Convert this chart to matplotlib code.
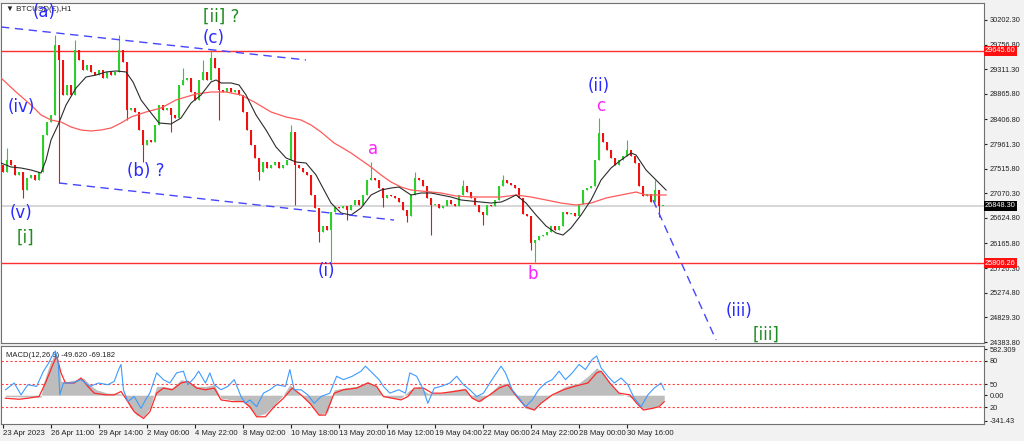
import numpy as np
import matplotlib
matplotlib.use("Agg")
from matplotlib import pyplot as plt
import matplotlib.transforms as mtrans

# hourly BTCUSD, one candle per bar (closes)
closes = [27456, 27672, 27582, 27401, 27456, 27130, 27347, 27401, 27311, 27456,
          28124, 28359, 28486, 29751, 29480, 28847, 29028, 28847, 29660, 29480,
          29299, 29389, 29263, 29208, 29299, 29154, 29263, 29208, 29263, 29660,
          29443, 28576, 28612, 28540, 28214, 27943, 28034, 27998, 28305, 28666,
          28576, 28612, 28486, 28431, 29028, 29118, 29154, 28901, 28757, 29118,
          29263, 29118, 29516, 29335, 28937, 28901, 28974, 28901, 28937, 28847,
          28540, 28214, 27943, 27709, 27456, 27636, 27528, 27582, 27636, 27528,
          27582, 27672, 28178, 27582, 27528, 27456, 27401, 27040, 26805, 26371,
          26480, 26407, 26733, 26823, 26805, 26841, 26769, 26859, 26949, 26859,
          27040, 27311, 27347, 27311, 27166, 26986, 27040, 27022, 26986, 26913,
          26769, 26661, 27040, 27347, 27311, 27203, 26986, 26859, 26877, 26805,
          26841, 26949, 26877, 26841, 27040, 27203, 27094, 26986, 26859, 26733,
          26678, 26859, 26841, 26949, 27203, 27311, 27257, 27220, 27166, 26986,
          26697, 26661, 26173, 26227, 26299, 26317, 26371, 26480, 26407, 26480,
          26733, 26697, 26715, 26661, 26877, 27130, 27166, 27203, 27672, 28160,
          27998, 27853, 27709, 27582, 27672, 27745, 27853, 27745, 27618, 27203,
          27022, 27058, 26913, 27130, 26841, 26848.3]
first_open = 27580

# long wicks (bar index -> price)
wick_high = {1: 27889, 13: 29931, 18: 29841, 29: 29931, 45: 29335, 50: 29480,
             52: 29660, 72: 28305, 92: 27636, 103: 27456, 115: 27311, 125: 27401,
             149: 28431, 156: 28034, 163: 27311}
wick_low = {5: 26986, 14: 27257, 31: 28395, 35: 27636, 42: 28178, 54: 28395,
            64: 27311, 73: 26859, 79: 26190, 82: 25829, 86: 26588, 95: 26823,
            101: 26552, 107: 26317, 120: 26497, 132: 26046, 133: 25829, 164: 26642}

# moving averages (bar, price)
ma_fast_x = [-0.5, 2, 4.5, 7, 9.5, 10.75, 12, 13.75, 15.75, 18.25, 20.75, 23.25, 25.75,
             28.25, 30.75, 32.5, 34.5, 37, 39, 42, 44.5, 47, 49.5, 52, 53.25, 54.5, 57,
             59, 60.75, 63.25, 65.75, 68.25, 70.75, 73.25, 75.75, 78.25, 80.25, 82, 84.5,
             87, 89.5, 92, 94.5, 97, 99, 102, 104.5, 107, 109.5, 112, 114.5, 117, 119.5,
             122, 124.5, 125.75, 128.25, 130.75, 133.25, 135.75, 138.25, 140, 142, 144.5,
             147, 149.5, 152, 154.5, 157, 158.25, 160.75, 163.25, 165.75]
ma_fast = [27618, 27546, 27528, 27492, 27438, 27672, 28034, 28305, 28666, 28973, 29172,
           29208, 29263, 29281, 29263, 29082, 28757, 28522, 28341, 28323, 28431, 28702,
           28847, 29082, 29118, 29064, 29064, 29028, 28847, 28486, 28214, 27907, 27709,
           27636, 27618, 27401, 27130, 26895, 26715, 26678, 26805, 27040, 27130, 27166,
           27184, 27040, 27076, 27076, 27040, 27004, 26950, 26931, 26913, 26895, 26913,
           26950, 27040, 26895, 26678, 26480, 26353, 26317, 26444, 26678, 26950, 27311,
           27528, 27672, 27799, 27763, 27492, 27311, 27130]
ma_slow_x = [-0.5, 3.25, 7, 9.5, 12, 14.5, 17, 19.5, 22, 24.5, 27, 29.5, 32, 35.75, 39.5,
             43.25, 45.75, 48.25, 52, 55.75, 59.5, 63.25, 67, 70.75, 74.5, 77, 79.5, 82.75,
             84.5, 87, 89.5, 92, 94.5, 97, 99.5, 102, 104.5, 107, 109.5, 113.25, 117, 124.5,
             128.25, 132, 135.75, 139.5, 143.25, 147, 150.75, 154.5, 158.25, 160.75, 165.75]
ma_slow = [29154, 28901, 28666, 28486, 28395, 28359, 28269, 28214, 28197, 28214, 28251,
           28341, 28449, 28540, 28612, 28757, 28811, 28865, 28901, 28901, 28847, 28702,
           28540, 28449, 28395, 28305, 28178, 27980, 27907, 27799, 27672, 27546, 27401,
           27275, 27184, 27130, 27112, 27094, 27076, 27022, 27004, 27004, 27040, 27004,
           26950, 26895, 26859, 26895, 26986, 27040, 27094, 27040, 27040]

# MACD(12,26,9)
macd_x = [0.6, 2.8, 4.5, 6.2, 8.4, 10.1, 11.2, 12.3, 13.1, 13.8, 14.2, 15.1, 17.3, 19.5,
          21.7, 23.9, 26.2, 27.8, 28.9, 29.5, 30.1, 31.2, 32.8, 34.5, 35.6, 36.7, 38.4,
          40.1, 41.7, 43.4, 45.1, 46.2, 47.8, 48.9, 50.6, 51.7, 52.8, 54.5, 56.2, 57.8,
          59.5, 60.6, 61.7, 63.4, 65.1, 66.7, 68.4, 70.6, 71.7, 72.8, 74.5, 76.2, 77.8,
          79.5, 81.7, 83.4, 85.1, 87.3, 89.5, 90.6, 92.3, 94.0, 95.1, 96.7, 98.9, 100.6,
          101.7, 103.4, 105.1, 106.2, 107.8, 109.5, 111.7, 113.4, 115.1, 116.7, 118.4,
          120.1, 121.7, 122.8, 124.5, 125.6, 127.3, 129.0, 130.6, 132.3, 133.9, 135.6,
          137.3, 139.0, 140.6, 142.3, 144.0, 145.6, 147.3, 148.4, 149.5, 151.2, 152.8,
          154.5, 156.2, 157.8, 159.5, 161.2, 162.8, 164.5, 165.3]
macd_main = [64, 144, 4, 124, 104, 284, 364, 464, 524, 384, 4, 144, 144, 184, 104, 144,
             124, 164, 304, 364, 64, -76, -16, -156, -56, 24, 264, 184, 144, 264, 284, 124,
             204, 284, 144, 264, 124, 64, 104, 184, -16, -96, -56, -136, 24, 64, 124, 104,
             304, 64, 64, 4, -96, -16, 24, 224, 184, 224, 284, 344, 264, 184, 104, 24, 64,
             24, 264, 224, 64, -96, 84, 104, 144, 224, 124, 64, -16, 24, 144, 224, 344, 264,
             64, -36, -136, -56, 64, 144, 184, 284, 184, 264, 364, 304, 424, 464, 324, 224,
             144, 204, 124, -36, -136, 4, 84, 144, 64]
signal_x = [0.6, 4.0, 6.2, 9.0, 10.6, 12.3, 13.4, 14.5, 15.6, 17.8, 19.5, 21.2, 22.8, 25.6,
            27.8, 29.5, 31.2, 32.8, 35.1, 36.7, 38.4, 40.1, 42.3, 44.5, 46.2, 48.4, 50.6,
            52.8, 54.5, 57.3, 60.1, 61.7, 63.4, 65.6, 67.8, 70.1, 72.3, 74.5, 76.7, 79.0,
            80.6, 82.8, 85.1, 88.4, 91.2, 93.4, 95.1, 97.3, 99.5, 101.2, 102.8, 105.1,
            107.3, 109.5, 112.8, 115.6, 117.3, 119.0, 121.7, 124.0, 126.2, 128.4, 130.6,
            132.8, 134.5, 137.3, 140.1, 142.8, 146.2, 148.4, 149.5, 151.7, 154.0, 156.7,
            158.4, 160.1, 162.3, 164.0, 165.3]
signal = [-36, -48, -36, -16, 144, 344, 464, 264, 144, 144, 204, 104, 24, 4, 4, 44, -76,
          -196, -276, -196, 24, 84, 64, 144, 164, 84, 64, 84, -56, -76, -76, -136, -256,
          -256, -136, -36, 84, 4, -96, -236, -236, 24, 64, 84, 144, 104, -16, -36, -56,
          -16, 84, 84, 24, 24, 44, 64, -36, -76, 4, 84, 124, -16, -136, -176, -96, 4, 64,
          104, 144, 264, 284, 144, 24, 4, -96, -176, -156, -136, -76]
hist_x = [0.6, 9.5, 10.1, 11.8, 12.9, 13.8, 14.5, 16.2, 18.4, 20.1, 21.7, 23.4, 26.2, 28.4,
          30.1, 31.7, 33.4, 35.1, 36.7, 38.4, 40.1, 42.3, 44.5, 46.2, 48.4, 50.6, 52.8,
          54.5, 57.3, 60.1, 61.7, 63.4, 65.6, 67.8, 70.1, 71.7, 74.0, 76.7, 79.0, 81.2,
          82.8, 85.1, 88.4, 91.2, 93.4, 95.1, 97.3, 99.5, 101.7, 104.0, 106.2, 109.5,
          112.8, 115.6, 117.3, 119.5, 121.7, 124.0, 126.2, 128.4, 130.6, 132.8, 135.1,
          137.8, 140.6, 144.0, 146.2, 148.4, 150.1, 151.7, 154.0, 157.5, 159.5, 162.3,
          164.0, 165.3]
hist = [-16, -24, 144, 384, 484, 424, 164, 164, 184, 204, 124, 64, 24, 24, 4, -136, -236,
        -256, -156, 104, 104, 84, 184, 164, 104, 104, 124, -36, -56, -76, -156, -248, -216,
        -116, 4, 124, 24, -96, -236, -196, 64, 84, 104, 164, 104, -16, -36, -36, 64, 104,
        24, 24, 64, 84, -36, -76, 24, 124, 144, -16, -156, -176, -56, 24, 104, 144, 224,
        324, 264, 144, 24, -36, -156, -156, -116, -56]

price_ticks = [30202.30, 29756.80, 29311.30, 28865.80, 28406.80, 27961.30, 27515.80,
               27070.30, 26624.80, 26165.80, 25720.30, 25274.80, 24829.30, 24383.80]
level_hi, level_lo, last_price = 29645.60, 25806.26, 26848.30
date_ticks = [0, 12, 24, 36, 48, 60, 72, 84, 96, 108, 120, 132, 144, 156]
date_labels = ['23 Apr 2023', '26 Apr 11:00', '29 Apr 14:00', '2 May 06:00', '4 May 22:00',
               '8 May 02:00', '10 May 18:00', '13 May 20:00', '16 May 12:00', '19 May 04:00',
               '22 May 06:00', '24 May 22:00', '28 May 00:00', '30 May 16:00']

# wave labels: (text, bar, price, colour)
BLUE, GREEN, MAG = '#2a2aff', '#1e8c1e', '#ff22ff'
waves = [('(a)', 10.25, 30347, BLUE), ('[ii] ?', 54.5, 30257, GREEN), ('(c)', 52.75, 29877, BLUE),
         ('(iv)', 4.5, 28630, BLUE), ('(b) ?', 35.75, 27473, BLUE), ('(v)', 4.5, 26715, BLUE),
         ('[i]', 5.5, 26263, GREEN), ('a', 92.5, 27871, MAG), ('(i)', 80.75, 25667, BLUE),
         ('b', 132.5, 25613, MAG), ('(ii)', 149, 29010, BLUE), ('c', 149.5, 28648, MAG),
         ('(iii)', 184, 24944, BLUE), ('[iii]', 190.75, 24510, GREEN)]
channel_up = ([-0.5, 75.75], [30076, 29480])
channel_dn = ([14, 97.75], [27257, 26588])
projection = ([162.5, 178.25], [26949, 24420])

SMALL = ['Liberation Sans', 'DejaVu Sans']

fig = plt.figure(figsize=(10.24, 4.41), dpi=100, facecolor='#f2f2f2')
ax = fig.add_axes([0.001, 0.2222, 0.9600, 0.7710])
mx = fig.add_axes([0.001, 0.0385, 0.9600, 0.1769])
for a in (ax, mx):
    a.set_facecolor('white')
    for s in a.spines.values():
        s.set_color('#707070')
        s.set_linewidth(0.8)
    a.set_xlim(-0.5, 245.25)
    a.yaxis.tick_right()
    a.tick_params(axis='y', length=2.5, labelsize=5.3, pad=1.5, colors='#222222')

# candles
n = len(closes)
xs = np.arange(n)
opens = np.array([first_open] + closes[:-1])
cl = np.array(closes)
up = cl >= opens
hi = np.maximum(opens, cl)
lo = np.minimum(opens, cl)
for i, v in wick_high.items():
    hi[i] = v
for i, v in wick_low.items():
    lo[i] = v
cols = np.where(up, '#2ccf2c', '#f01010')
ax.vlines(xs, lo, hi, colors=cols, lw=0.8, zorder=3)
body = np.where(np.abs(cl - opens) < 15, 15, cl - opens)
ax.bar(xs, body, bottom=opens, width=0.55, color=cols, linewidth=0, zorder=3)

ax.plot(ma_slow_x, ma_slow, color='#ff5a5a', lw=0.9, zorder=4)
ax.plot(ma_fast_x, ma_fast, color='#2b2b2b', lw=0.8, zorder=4)

ax.axhline(level_hi, color='#ff3030', lw=1, zorder=2)
ax.axhline(level_lo, color='#ff3030', lw=1, zorder=2)
ax.axhline(last_price, color='#d0d0d0', lw=1.2, zorder=1)

for line in (channel_up, channel_dn, projection):
    ax.plot(line[0], line[1], color='#4646ff', lw=1, dashes=(6, 4), zorder=5)

for txt, bx, py, c in waves:
    ax.text(bx, py, txt, color=c, fontsize=12, ha='center', va='center', zorder=6)

ax.set_ylim(24366, 30509)
ax.set_yticks(price_ticks)
ax.set_yticklabels([f'{p:.2f}' for p in price_ticks], family=SMALL)
ax.set_xticks([])
ax.text(0.005, 0.982, '\u25bc BTCUSD(\u00a3),H1', transform=ax.transAxes, fontsize=5.8,
        va='center', ha='left', color='#222222', zorder=5, family=SMALL)

tr = mtrans.blended_transform_factory(ax.transAxes, ax.transData)
for p, fc in ((level_hi, '#ff1010'), (level_lo, '#ff1010'), (last_price, '#000000')):
    ax.text(1.001, p, f'{p:.2f}', transform=tr, fontsize=5.3, color='white', va='center',
            ha='left', zorder=10, clip_on=False, family=SMALL,
            bbox=dict(boxstyle='square,pad=0.2', fc=fc, ec='none'))

# MACD panel
mx.fill_between(hist_x, 0, hist, color='#bdbdbd', lw=0, zorder=2)
mx.plot(macd_x, macd_main, color='#3d9bff', lw=0.8, zorder=4)
mx.plot(signal_x, signal, color='#ff2a2a', lw=0.9, zorder=3)
levels = [405, 132, -140]
for lv in levels:
    mx.axhline(lv, color='#ff4040', lw=0.8, dashes=(2, 2), zorder=1)
mx.set_ylim(-341.43, 582.309)
mx.set_yticks([545, 405, 132, 0, -140, -305])
mx.set_yticklabels(['582.309', '80', '50', '0.00', '20', '-341.43'], family=SMALL)
mx.text(0.005, 0.88, 'MACD(12,26,9) -49.620 -69.182', transform=mx.transAxes, fontsize=5.5,
        color='#222222', va='center', ha='left', family=SMALL)
mx.set_xticks(date_ticks)
mx.set_xticklabels(date_labels, ha='left', family=SMALL)
mx.tick_params(axis='x', length=3, labelsize=5.6, pad=1.5, colors='#222222')

fig.savefig('out.png', dpi=100, facecolor=fig.get_facecolor())
